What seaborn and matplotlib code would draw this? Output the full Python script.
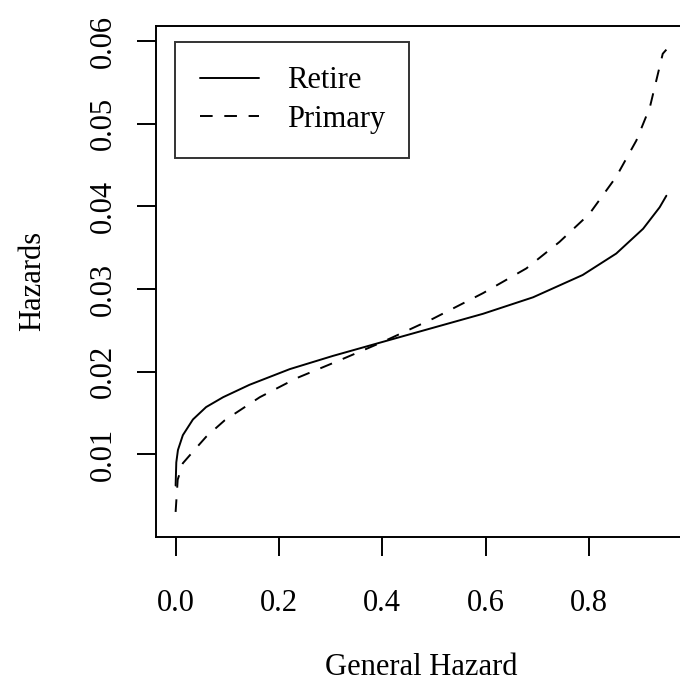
import pandas as pd
import seaborn as sns
import matplotlib.pyplot as plt

# --- values ---
retire_x = [0.0, 0.0013, 0.0045, 0.014, 0.0335, 0.059, 0.092, 0.143, 0.221, 0.3045, 0.401,
            0.498, 0.595, 0.692, 0.788, 0.853, 0.905, 0.937, 0.95]
retire_y = [0.0062, 0.0090, 0.0105, 0.0123, 0.0142, 0.0157, 0.0169, 0.0184, 0.0203, 0.0219, 0.0236,
            0.0253, 0.0270, 0.0290, 0.0317, 0.0343, 0.0373, 0.0399, 0.0413]

primary_x = [0.0, 0.004, 0.014, 0.0335, 0.059, 0.095, 0.163, 0.234, 0.311, 0.401,
             0.498, 0.595, 0.679, 0.743, 0.801, 0.853, 0.892, 0.918, 0.943, 0.95]
primary_y = [0.0030, 0.0069, 0.0089, 0.0103, 0.0121, 0.0141, 0.0169, 0.0192, 0.0212, 0.0236,
             0.0264, 0.0295, 0.0325, 0.0357, 0.0391, 0.0436, 0.0480, 0.0520, 0.0585, 0.0590]

x_ticks = [0.0, 0.2, 0.4, 0.6, 0.8]
x_tick_labels = ["0.0", "0.2", "0.4", "0.6", "0.8"]
y_ticks = [0.01, 0.02, 0.03, 0.04, 0.05, 0.06]
y_tick_labels = ["0.01", "0.02", "0.03", "0.04", "0.05", "0.06"]

df = pd.concat([
    pd.DataFrame({'general': retire_x, 'hazard': retire_y, 'series': 'Retire'}),
    pd.DataFrame({'general': primary_x, 'hazard': primary_y, 'series': 'Primary'}),
], ignore_index=True)

sns.set_style("ticks")
plt.rcParams['font.family'] = ['Liberation Serif', 'DejaVu Serif']
plt.rcParams['text.color'] = 'black'
plt.rcParams['axes.labelcolor'] = 'black'
plt.rcParams['xtick.color'] = 'black'
plt.rcParams['ytick.color'] = 'black'
plt.rcParams['axes.linewidth'] = 1.4
FS = 22

fig = plt.figure(figsize=(6.8, 6.85), dpi=100)
ax = fig.add_axes([0.2294, 0.2165, 1.0088 - 0.2294, 0.9625 - 0.2165])

sns.lineplot(data=df, x='general', y='hazard', style='series', color='black',
             dashes={'Retire': '', 'Primary': (6.5, 6)}, estimator=None, sort=True,
             linewidth=1.4, ax=ax)

ax.set_xlim(-0.038, 0.988)
ax.set_ylim(0.0, 0.0619)
ax.set_xticks(x_ticks)
ax.set_xticklabels(x_tick_labels)
ax.set_yticks(y_ticks)
ax.set_yticklabels(y_tick_labels, rotation=90, va='center')
ax.tick_params(length=13.7, width=1.4, colors='black', labelsize=FS)
ax.tick_params(axis='x', pad=24)
ax.tick_params(axis='y', pad=14)
for s in ax.spines.values():
    s.set_color('black')

ax.set_xlabel("General Hazard", fontsize=FS, labelpad=25)
ax.set_ylabel("Hazards", fontsize=FS, labelpad=30)

leg = ax.legend(loc='upper left', bbox_to_anchor=(0.036, 0.968), borderaxespad=0,
                fontsize=FS, frameon=True, fancybox=False, handlelength=1.95,
                handletextpad=0.9, borderpad=0.8, labelspacing=0.3, title=None)
leg.get_frame().set_edgecolor('black')
leg.get_frame().set_linewidth(1.4)
for t in leg.get_texts():
    t.set_color('black')

fig.savefig("out.png", dpi=100)
